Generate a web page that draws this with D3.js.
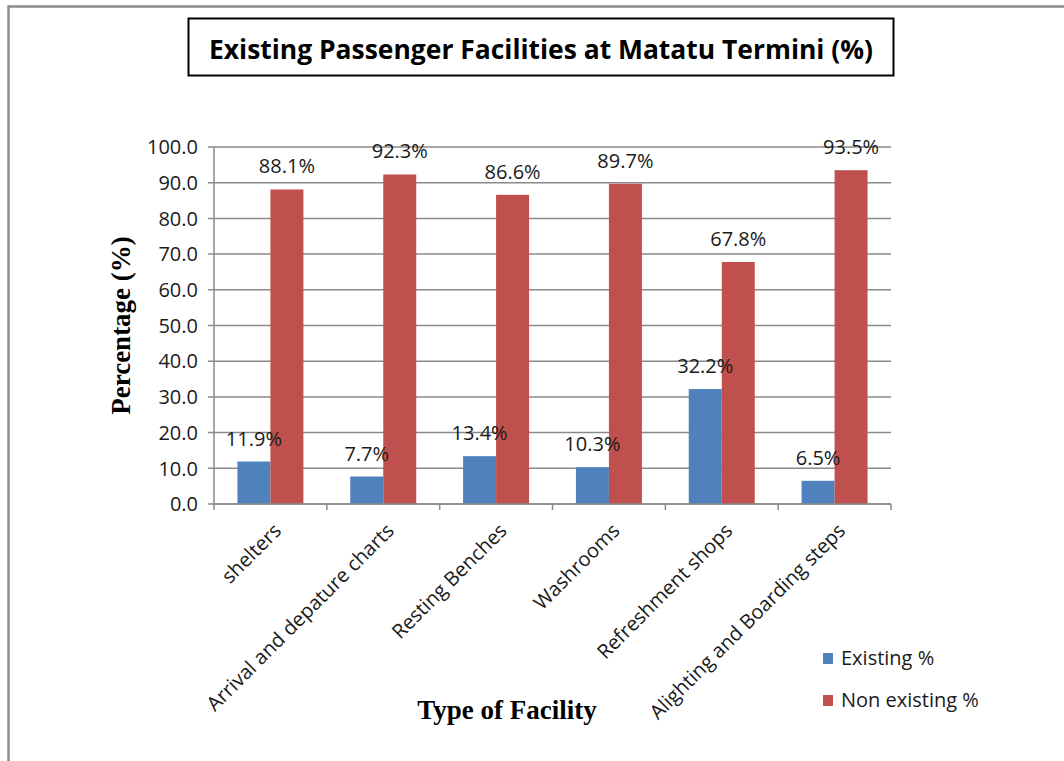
<!DOCTYPE html>
<html>
<head>
<meta charset="utf-8">
<script src="https://cdn.jsdelivr.net/npm/d3@7"></script>
<style>
  html, body { margin: 0; padding: 0; background: #fff; }
  svg { display: block; }
</style>
</head>
<body>
<svg id="chart" width="1064" height="761"></svg>
<script>
// Facility categories and the share of termini where each exists / does not exist
const categories = [
  "shelters",
  "Arrival and depature charts",
  "Resting Benches",
  "Washrooms",
  "Refreshment shops",
  "Alighting and Boarding steps"
];
const existing    = [11.9, 7.7, 13.4, 10.3, 32.2, 6.5];
const nonExisting = [88.1, 92.3, 86.6, 89.7, 67.8, 93.5];
const seriesNames  = ["Existing %", "Non existing %"];
const seriesColors = ["#4F81BD", "#C0504D"];
const yTicks = [0, 10, 20, 30, 40, 50, 60, 70, 80, 90, 100];

const svg = d3.select("#chart");
const W = 1064, H = 761;
const plot = { left: 214, right: 891, top: 147, bottom: 504 };
const sansFont = "'Open Sans', 'Noto Sans', sans-serif";
const serifFont = "'Liberation Serif', 'DejaVu Serif', serif";
const gridColor = "#8a8a8a";
const textColor = "#1a1a1a";

// outer chart frame (left and top edges)
svg.append("path")
  .attr("d", `M8.5,${H} L8.5,6.5 L${W},6.5`)
  .attr("fill", "none")
  .attr("stroke", "#8c8c8c")
  .attr("stroke-width", 2.5);

// title box
svg.append("rect")
  .attr("x", 188.5).attr("y", 18.5)
  .attr("width", 705).attr("height", 57)
  .attr("fill", "#fff")
  .attr("stroke", "#000")
  .attr("stroke-width", 2);
svg.append("text")
  .attr("x", 541).attr("y", 59)
  .attr("text-anchor", "middle")
  .attr("font-family", sansFont)
  .attr("font-weight", 700)
  .attr("font-size", 26)
  .attr("textLength", 664)
  .attr("lengthAdjust", "spacingAndGlyphs")
  .attr("fill", "#000")
  .text("Existing Passenger Facilities at Matatu Termini (%)");

// scales
const y = d3.scaleLinear().domain([0, 100]).range([plot.bottom, plot.top]);
const x0 = d3.scaleBand().domain(categories).range([plot.left, plot.right])
  .paddingInner(0).paddingOuter(0);
const x1 = d3.scaleBand().domain(seriesNames).range([0, x0.bandwidth()])
  .paddingInner(0).paddingOuter(0.71);

// horizontal gridlines with left tick marks
svg.append("g")
  .selectAll("line")
  .data(yTicks)
  .join("line")
  .attr("x1", plot.left - 6).attr("x2", plot.right)
  .attr("y1", d => y(d)).attr("y2", d => y(d))
  .attr("stroke", gridColor)
  .attr("stroke-width", 1.5);

// y axis line
svg.append("line")
  .attr("x1", plot.left).attr("x2", plot.left)
  .attr("y1", plot.top).attr("y2", plot.bottom)
  .attr("stroke", gridColor).attr("stroke-width", 1.5);

// y tick labels
svg.append("g")
  .selectAll("text")
  .data(yTicks)
  .join("text")
  .attr("x", plot.left - 16)
  .attr("y", d => y(d))
  .attr("dy", "0.36em")
  .attr("text-anchor", "end")
  .attr("font-family", sansFont)
  .attr("font-size", 20)
  .attr("fill", textColor)
  .text(d => d3.format(".1f")(d));

// bars
const rows = categories.map((c, i) => ({ cat: c, values: [existing[i], nonExisting[i]] }));
const groups = svg.append("g")
  .selectAll("g")
  .data(rows)
  .join("g")
  .attr("transform", d => `translate(${x0(d.cat)},0)`);

groups.selectAll("rect")
  .data(d => d.values.map((v, k) => ({ name: seriesNames[k], value: v, k })))
  .join("rect")
  .attr("x", d => x1(d.name))
  .attr("y", d => y(d.value))
  .attr("width", x1.bandwidth())
  .attr("height", d => y(0) - y(d.value))
  .attr("fill", d => seriesColors[d.k]);

// value labels above bars
groups.selectAll("text")
  .data(d => d.values.map((v, k) => ({ name: seriesNames[k], value: v, k })))
  .join("text")
  .attr("x", d => x1(d.name) + x1.bandwidth() / 2)
  .attr("y", d => y(d.value) - 16)
  .attr("text-anchor", "middle")
  .attr("font-family", sansFont)
  .attr("font-size", 20)
  .attr("fill", textColor)
  .text(d => d3.format(".1f")(d.value) + "%");

// x axis line and category boundary ticks
svg.append("line")
  .attr("x1", plot.left).attr("x2", plot.right)
  .attr("y1", plot.bottom).attr("y2", plot.bottom)
  .attr("stroke", gridColor).attr("stroke-width", 1.5);
const boundaries = categories.map(c => x0(c)).concat([plot.right]);
svg.append("g")
  .selectAll("line")
  .data(boundaries)
  .join("line")
  .attr("x1", d => d).attr("x2", d => d)
  .attr("y1", plot.bottom).attr("y2", plot.bottom + 6)
  .attr("stroke", gridColor).attr("stroke-width", 1.5);

// rotated category labels
svg.append("g")
  .selectAll("text")
  .data(categories)
  .join("text")
  .attr("transform", d => `translate(${x0(d) + x0.bandwidth() / 2 + 12},${plot.bottom + 28}) rotate(-45)`)
  .attr("text-anchor", "end")
  .attr("font-family", sansFont)
  .attr("font-size", 20)
  .attr("fill", textColor)
  .text(d => d);

// axis titles
svg.append("text")
  .attr("transform", `translate(130,${(plot.top + plot.bottom) / 2}) rotate(-90)`)
  .attr("text-anchor", "middle")
  .attr("font-family", serifFont)
  .attr("font-weight", 700)
  .attr("font-size", 27)
  .attr("fill", "#000")
  .text("Percentage (%)");

svg.append("text")
  .attr("x", 507).attr("y", 719)
  .attr("text-anchor", "middle")
  .attr("font-family", serifFont)
  .attr("font-weight", 700)
  .attr("font-size", 27)
  .attr("fill", "#000")
  .text("Type of Facility");

// legend
const legend = svg.append("g")
  .selectAll("g")
  .data(seriesNames)
  .join("g")
  .attr("transform", (d, i) => `translate(823,${653 + i * 42})`);
legend.append("rect")
  .attr("width", 10).attr("height", 11)
  .attr("fill", (d, i) => seriesColors[i]);
legend.append("text")
  .attr("x", 18).attr("y", 12)
  .attr("font-family", sansFont)
  .attr("font-size", 20)
  .attr("fill", textColor)
  .text(d => d);
</script>
</body>
</html>
